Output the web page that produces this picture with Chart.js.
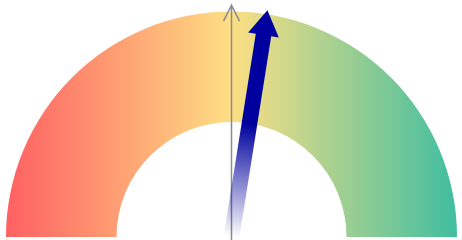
<!DOCTYPE html>
<html>
<head>
<meta charset="utf-8">
<script src="https://cdn.jsdelivr.net/npm/chart.js@4"></script>
<style>
  html, body { margin: 0; padding: 0; background: #fff; }
  #wrap { width: 462px; height: 240px; }
</style>
</head>
<body>
<div id="wrap"><canvas id="gaugeChart"></canvas></div>
<script>
// gauge range and values
var gaugeMin = 0;
var gaugeMax = 100;
var gaugeSegments = [gaugeMax - gaugeMin];
var needleValue = [55];
var referenceValue = [50];

// value -> angle (0 = pointing straight up, positive = clockwise)
function valueAngle(v) {
    return ((v - gaugeMin) / (gaugeMax - gaugeMin) - 0.5) * Math.PI;
}

var gaugeOverlay = {
    id: 'gaugeOverlay',
    afterDatasetsDraw: function(chart) {
        var arc = chart.getDatasetMeta(0).data[0];
        if (!arc) return;
        var ctx = chart.ctx;
        var cx = arc.x, cy = arc.y, r = arc.outerRadius;

        // reference line with open arrow head
        ctx.save();
        ctx.translate(cx, cy);
        ctx.rotate(valueAngle(referenceValue[0]));
        var refLen = r * 1.028;
        ctx.strokeStyle = '#8a8a90';
        ctx.lineWidth = 1.5;
        ctx.beginPath();
        ctx.moveTo(0, chart.height - cy);
        ctx.lineTo(0, -refLen);
        ctx.moveTo(-8, -refLen + 16);
        ctx.lineTo(0, -refLen);
        ctx.lineTo(8, -refLen + 16);
        ctx.stroke();
        ctx.restore();

        // needle
        ctx.save();
        ctx.translate(cx, cy);
        ctx.rotate(valueAngle(needleValue[0]));
        var len = r * 1.018;
        var headLen = 25, headHalf = 15.5, shaftHalf = 7.8;
        var grad = ctx.createLinearGradient(0, 0, 0, -len * 0.5);
        grad.addColorStop(0, 'rgba(0, 0, 158, 0)');
        grad.addColorStop(1, 'rgba(0, 0, 158, 1)');
        ctx.fillStyle = grad;
        ctx.beginPath();
        ctx.moveTo(-shaftHalf, 0);
        ctx.lineTo(-shaftHalf, -(len - headLen));
        ctx.lineTo(-headHalf, -(len - headLen));
        ctx.lineTo(0, -len);
        ctx.lineTo(headHalf, -(len - headLen));
        ctx.lineTo(shaftHalf, -(len - headLen));
        ctx.lineTo(shaftHalf, 0);
        ctx.closePath();
        ctx.fill();
        ctx.restore();
    }
};

var ctx = document.getElementById('gaugeChart').getContext('2d');
new Chart(ctx, {
    type: 'doughnut',
    data: {
        labels: ['gauge'],
        datasets: [{
            data: gaugeSegments,
            backgroundColor: function(context) {
                var chart = context.chart;
                var area = chart.chartArea;
                if (!area) return '#fde084';
                var g = chart.ctx.createLinearGradient(area.left, 0, area.right, 0);
                g.addColorStop(0, 'rgb(255, 96, 98)');
                g.addColorStop(0.5, 'rgb(253, 223, 132)');
                g.addColorStop(1, 'rgb(64, 190, 160)');
                return g;
            },
            borderWidth: 0
        }]
    },
    options: {
        responsive: true,
        maintainAspectRatio: false,
        animation: false,
        rotation: -90,
        circumference: 180,
        cutout: '51%',
        layout: {
            padding: { left: 6, right: 5, top: 11.5, bottom: 3 }
        },
        plugins: {
            legend: { display: false },
            tooltip: { enabled: false }
        }
    },
    plugins: [gaugeOverlay]
});
</script>
</body>
</html>
